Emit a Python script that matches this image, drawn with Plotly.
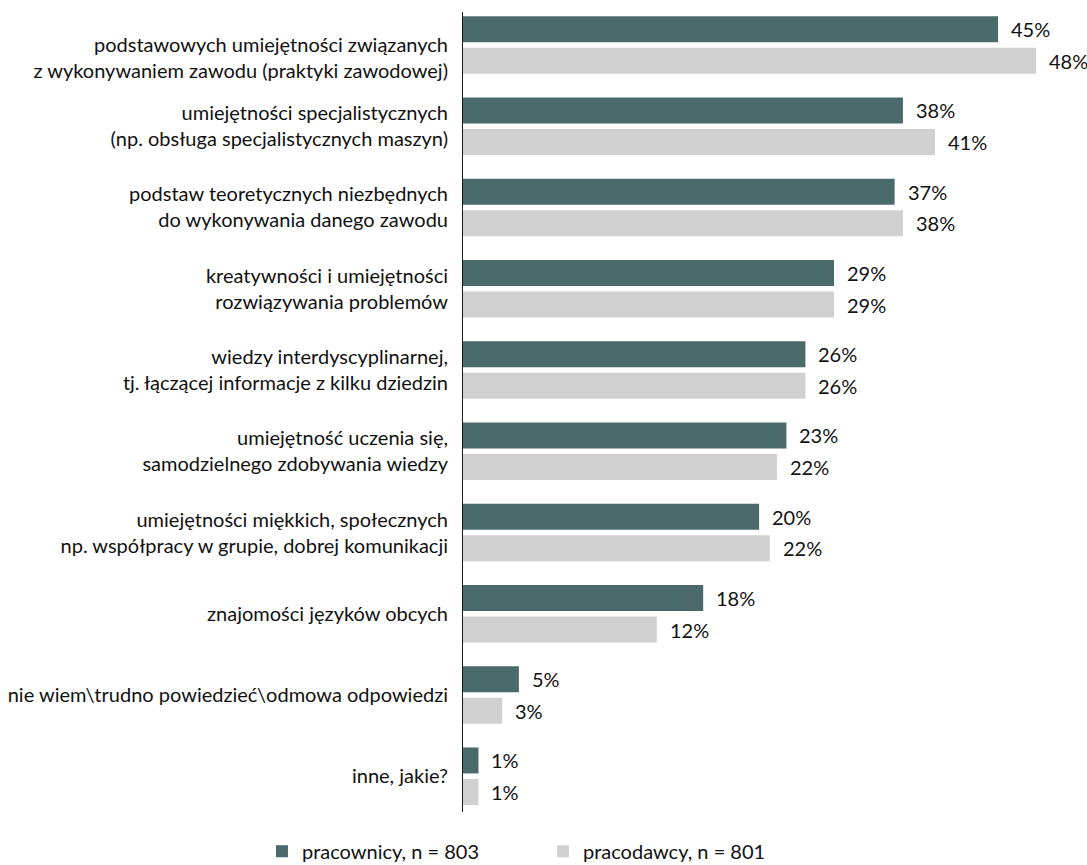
import plotly.graph_objects as go

categories = [
    "\u00a0<br>podstawowych umiejętności związanych<br>z wykonywaniem zawodu (praktyki zawodowej)",
    "umiejętności specjalistycznych<br>(np. obsługa specjalistycznych maszyn)",
    "podstaw teoretycznych niezbędnych<br>do wykonywania danego zawodu",
    "kreatywności i umiejętności<br>rozwiązywania problemów",
    "wiedzy interdyscyplinarnej,<br>tj. łączącej informacje z kilku dziedzin",
    "umiejętność uczenia się,<br>samodzielnego zdobywania wiedzy",
    "umiejętności miękkich, społecznych<br>np. współpracy w grupie, dobrej komunikacji",
    "znajomości języków obcych",
    "nie wiem\\trudno powiedzieć\\odmowa odpowiedzi",
    "inne, jakie?",
]

# bar lengths as drawn in the reference
pracownicy_bars = [45.0, 37.0, 36.3, 31.2, 28.8, 27.2, 24.9, 20.2, 4.7, 1.3]
pracodawcy_bars = [48.2, 39.7, 37.0, 31.2, 28.8, 26.4, 25.8, 16.3, 3.3, 1.3]

# printed value labels
pracownicy_labels = ["45%", "38%", "37%", "29%", "26%", "23%", "20%", "18%", "5%", "1%"]
pracodawcy_labels = ["48%", "41%", "38%", "29%", "26%", "22%", "22%", "12%", "3%", "1%"]

series_names = ["pracownicy, n = 803", "pracodawcy, n = 801"]

DARK = "#4a6a6b"
LIGHT = "#d0d0d0"
TXT = "#111111"
FONT = "Lato"
FS = 20

fig = go.Figure()
fig.add_trace(go.Bar(y=categories, x=pracownicy_bars, orientation="h",
                     name=series_names[0], marker=dict(color=DARK, line=dict(width=0))))
fig.add_trace(go.Bar(y=categories, x=pracodawcy_bars, orientation="h",
                     name=series_names[1], marker=dict(color=LIGHT, line=dict(width=0))))

annotations = []
for c, v, t in zip(categories, pracownicy_bars, pracownicy_labels):
    annotations.append(dict(x=v, y=c, text=t, showarrow=False, xanchor="left",
                            yanchor="middle", xshift=11, yshift=15.8,
                            font=dict(family=FONT, size=FS, color=TXT)))
for c, v, t in zip(categories, pracodawcy_bars, pracodawcy_labels):
    annotations.append(dict(x=v, y=c, text=t, showarrow=False, xanchor="left",
                            yanchor="middle", xshift=11, yshift=-15.8,
                            font=dict(family=FONT, size=FS, color=TXT)))

fig.update_layout(
    width=1087, height=865,
    margin=dict(l=463, r=24, t=12, b=53, pad=0, autoexpand=False),
    paper_bgcolor="white", plot_bgcolor="white",
    barmode="group", bargap=0.222, bargroupgap=0.177,
    font=dict(family=FONT, size=FS, color=TXT),
    annotations=annotations,
    showlegend=True,
    legend=dict(orientation="h", xref="container", yref="container",
                x=0.241, y=0.016, xanchor="left", yanchor="middle",
                entrywidth=236, entrywidthmode="pixels",
                font=dict(family=FONT, size=FS, color=TXT),
                traceorder="normal"),
)
fig.update_xaxes(range=[0, 50.46], showgrid=False, zeroline=False,
                 showticklabels=False, showline=False, ticks="", automargin=False)
fig.update_yaxes(range=[9.44, -0.406], showgrid=False, zeroline=False,
                 showline=True, linecolor="#1a1a1a", linewidth=1,
                 ticks="", ticklabelstandoff=10, automargin=False,
                 tickfont=dict(family=FONT, size=FS, color=TXT))

fig.write_html("out.html")
